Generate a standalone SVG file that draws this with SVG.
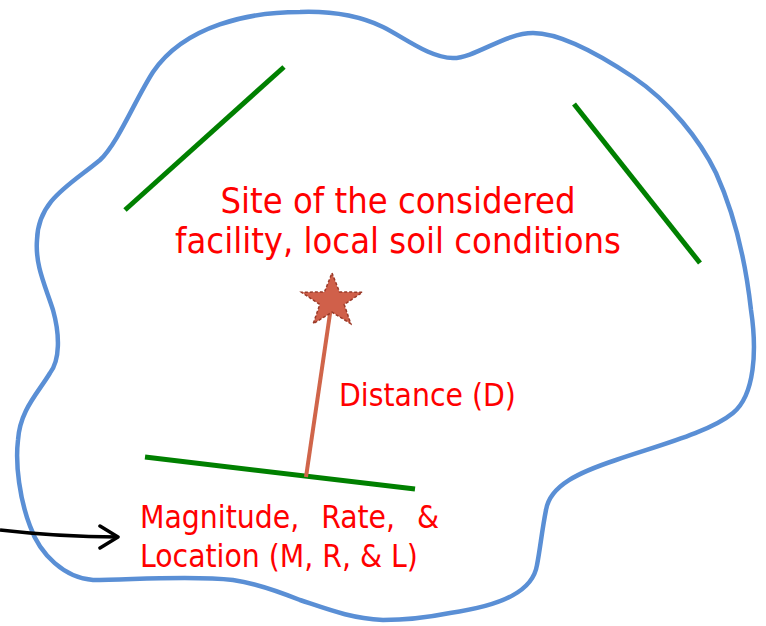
<svg xmlns="http://www.w3.org/2000/svg" width="766" height="626" viewBox="0 0 766 626">
<defs>
<style>
.region{fill:none;stroke:#5A8FD5;stroke-width:4.5}
.fault{stroke:#008000;stroke-width:5;stroke-linecap:butt}
.lbl{font-family:"DejaVu Sans Condensed","DejaVu Sans",Verdana,sans-serif;fill:#FF0000}
.big{font-size:36px}
.mid{font-size:31.5px}
</style>
<marker id="chev" viewBox="0 0 22 26" refX="20" refY="13" markerWidth="22" markerHeight="26" markerUnits="userSpaceOnUse" orient="auto">
<path d="M2,2 L20,13 L2,24" fill="none" stroke="#000" stroke-width="3.5" stroke-linecap="round" stroke-linejoin="round"/>
</marker>
</defs>
<rect width="766" height="626" fill="#fff"/>
<g id="region">
<path class="region" d="M300,12 C330,11 360,16 383,27 C405,38 430,58 453,58 C475,58 505,33 533,33 C560,33 600,55 633,77 C670,102 700,140 716,173 C735,215 746,265 751,310 C757,350 755,395 733,413 C710,432 660,445 616,460 C580,472 550,485 546,510 C542,530 540,550 537,565 C533,590 505,605 450,613 C430,617 405,620 383,620 C350,618 330,610 300,600 C275,590 255,583 233,580 C190,575 130,580 93,580 C65,578 40,555 30,526 C20,500 15,465 18,440 C20,410 38,393 50,373 C60,360 60,335 53,310 C45,285 35,265 37,240 C38,200 70,185 100,160 C118,143 135,100 153,72 C185,25 250,12 300,12 Z"/>
</g>
<g id="faults">
<line id="fault1" class="fault" x1="125" y1="210" x2="284" y2="67"/>
<line id="fault2" class="fault" x1="574" y1="104" x2="700" y2="263"/>
<line id="fault3" class="fault" x1="145" y1="457" x2="415" y2="489"/>
</g>
<g id="connectors">
<line id="distance" x1="306" y1="477" x2="332" y2="300" stroke="#D0654A" stroke-width="4"/>
<path id="input-arrow" d="M0,530 Q60,537 118,537" fill="none" stroke="#000" stroke-width="3.5" marker-end="url(#chev)"/>
</g>
<g id="site">
<polygon points="332,273 339.5,291.9 362.4,292.3 344.2,304.5 350.8,323.7 332,312.2 313.2,323.7 319.8,304.5 301.6,292.3 324.5,291.9" fill="#D0604A" stroke="#9A3A28" stroke-width="1.5" stroke-dasharray="3,2"/>
</g>
<g id="site-label">
<text class="lbl big" x="398" y="213" text-anchor="middle">Site of the considered</text>
<text class="lbl big" x="398" y="253" text-anchor="middle">facility, local soil conditions</text>
</g>
<g id="distance-label">
<text class="lbl mid" x="339" y="406">Distance (D)</text>
</g>
<g id="source-label">
<text class="lbl mid" x="140" y="528" style="white-space:pre;word-spacing:2px">Magnitude,  Rate,  &amp;</text>
<text class="lbl mid" x="140" y="567">Location (M, R, &amp; L)</text>
</g>
</svg>
